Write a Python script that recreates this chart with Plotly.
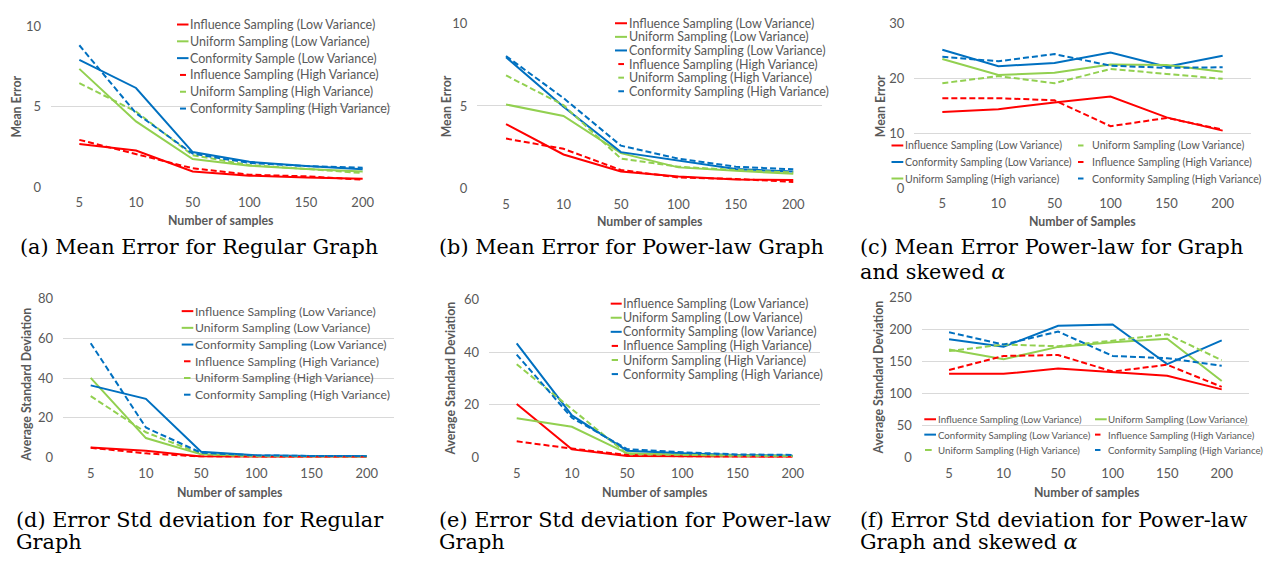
import plotly.graph_objects as go

W, H = 1281, 563

cats = ["5", "10", "50", "100", "150", "200"]

# (a) Mean Error for Regular Graph
a_inf_low = [2.68, 2.28, 0.97, 0.71, 0.60, 0.52]
a_uni_low = [7.36, 4.09, 1.75, 1.33, 1.13, 0.97]
a_con_low = [7.92, 6.17, 2.18, 1.57, 1.31, 1.11]
a_inf_high = [2.94, 2.04, 1.17, 0.77, 0.67, 0.46]
a_uni_high = [6.47, 4.70, 1.98, 1.37, 1.13, 0.87]
a_con_high = [8.83, 4.60, 2.08, 1.50, 1.31, 1.21]

# (b) Mean Error for Power-law Graph
b_inf_low = [3.91, 2.07, 1.04, 0.74, 0.55, 0.52]
b_uni_low = [5.09, 4.40, 2.15, 1.29, 1.08, 0.90]
b_con_low = [7.95, 4.95, 2.21, 1.72, 1.19, 1.04]
b_inf_high = [3.03, 2.41, 1.13, 0.68, 0.59, 0.41]
b_uni_high = [6.85, 5.05, 1.82, 1.33, 1.13, 0.98]
b_con_high = [8.02, 5.48, 2.60, 1.82, 1.33, 1.17]

# (c) Mean Error Power-law Graph, skewed alpha
c_inf_low = [13.9, 14.4, 15.6, 16.7, 12.9, 10.5]
c_uni_low = [19.1, 20.4, 19.1, 21.7, 20.8, 19.9]
c_con_low = [25.2, 22.2, 22.8, 24.7, 22.1, 24.1]
c_inf_high = [16.4, 16.4, 16.0, 11.3, 12.8, 10.7]
c_uni_high = [23.5, 20.6, 21.0, 22.5, 22.4, 21.2]
c_con_high = [23.9, 23.1, 24.4, 22.3, 21.9, 22.0]

# (d) Error Std deviation for Regular Graph
d_inf_low = [5.05, 3.4, 0.5, 0.2, 0.15, 0.15]
d_uni_low = [40.1, 9.8, 1.6, 0.5, 0.5, 0.4]
d_con_low = [36.3, 29.5, 2.9, 1.1, 0.8, 0.8]
d_inf_high = [4.9, 2.1, 0.5, 0.2, 0.2, 0.2]
d_uni_high = [30.9, 12.7, 1.8, 0.8, 0.7, 0.5]
d_con_high = [57.5, 15.1, 2.4, 1.1, 0.8, 0.7]

# (e) Error Std deviation for Power-law Graph
e_inf_low = [20.3, 3.1, 0.6, 0.4, 0.2, 0.1]
e_uni_low = [14.9, 11.7, 1.6, 1.0, 0.6, 0.6]
e_con_low = [43.3, 16.0, 2.6, 1.6, 1.0, 0.7]
e_inf_high = [6.15, 3.4, 1.0, 0.4, 0.3, 0.2]
e_uni_high = [35.4, 18.5, 1.35, 1.0, 0.7, 0.6]
e_con_high = [39.1, 15.1, 3.2, 2.0, 1.2, 1.0]

# (f) Error Std deviation for Power-law Graph, skewed alpha
f_inf_low = [130.8, 130.8, 139.0, 133.4, 127.8, 106.5]
f_uni_low = [168.9, 153.7, 172.9, 180.0, 185.6, 119.7]
f_con_low = [185.0, 173.0, 205.9, 207.9, 146.0, 183.0]
f_inf_high = [136.9, 158.7, 160.2, 134.4, 145.0, 110.5]
f_uni_high = [166.3, 176.5, 173.9, 182.6, 192.7, 152.1]
f_con_high = [195.7, 176.5, 196.8, 158.7, 155.2, 143.5]

labels_a = ["Influence Sampling (Low Variance)", "Uniform Sampling (Low Variance)",
            "Conformity Sample (Low Variance)", "Influence Sampling (High Variance)",
            "Uniform Sampling (High Variance)", "Conformity Sampling (High Variance)"]
labels_std = ["Influence Sampling (Low Variance)", "Uniform Sampling (Low Variance)",
              "Conformity Sampling (Low Variance)", "Influence Sampling (High Variance)",
              "Uniform Sampling (High Variance)", "Conformity Sampling (High Variance)"]
labels_c = ["Influence Sampling (Low Variance)", "Uniform Sampling (Low Variance)",
            "Conformity Sampling (Low Variance)", "Influence Sampling (High Variance)",
            "Uniform Sampling (High variance)", "Conformity Sampling (High Variance)"]
labels_e = ["Influence Sampling (Low Variance)", "Uniform Sampling (Low Variance)",
            "Conformity Sampling (low Variance)", "Influence Sampling (High Variance)",
            "Uniform Sampling (High Variance)", "Conformity Sampling (High Variance)"]

captions = [
    ("(a) Mean Error for Regular Graph", 18, 246),
    ("(b) Mean Error for Power-law Graph", 437, 246),
    ("(c) Mean Error Power-law for Graph", 858, 246),
    ("and skewed <i>α</i>", 858, 272),
    ("(d) Error Std deviation for Regular", 14, 527),
    ("Graph", 14, 550),
    ("(e) Error Std deviation for Power-law", 437, 527),
    ("Graph", 437, 550),
    ("(f) Error Std deviation for Power-law", 858, 527),
    ("Graph and skewed <i>α</i>", 858, 550),
]

RED, GREEN, BLUE = "#FF0000", "#92D050", "#0070C0"
GRAY, GRID = "#595959", "#D9D9D9"
DASH = "6px,3px"
STD_STYLES = [(RED, "solid"), (GREEN, "solid"), (BLUE, "solid"),
              (RED, DASH), (GREEN, DASH), (BLUE, DASH)]
C_STYLES = [(RED, "solid"), (GREEN, DASH), (BLUE, "solid"),
            (RED, DASH), (GREEN, "solid"), (BLUE, DASH)]


def X(p):
    return p / W


def Y(p):
    return 1 - p / H


panels = [
    dict(box=(51, 391, 19, 184.3), ymax=10, dtick=5,
         series=[a_inf_low, a_uni_low, a_con_low, a_inf_high, a_uni_high, a_con_high],
         labels=labels_a, styles=STD_STYLES,
         ytitle="Mean Error", ypos=(17, 101.5), xtitle="Number of samples", xpos=(221, 219),
         lfont=12.5, ly0=17, ldy=17.3,
         cols=[dict(items=[0, 1, 2, 3, 4, 5], key=(177, 188.5), dash=(180, 186), tx=188)]),
    dict(box=(477.3, 822, 15.7, 186), ymax=10, dtick=5,
         series=[b_inf_low, b_uni_low, b_con_low, b_inf_high, b_uni_high, b_con_high],
         labels=labels_std, styles=STD_STYLES,
         ytitle="Mean Error", ypos=(446.7, 101.5), xtitle="Number of samples", xpos=(650, 220),
         lfont=12.5, ly0=15.7, ldy=14,
         cols=[dict(items=[0, 1, 2, 3, 4, 5], key=(615, 627), dash=(618.3, 624), tx=626.5)]),
    dict(box=(914.3, 1250.7, 15.7, 185.7), ymax=30, dtick=10,
         series=[c_inf_low, c_uni_low, c_con_low, c_inf_high, c_uni_high, c_con_high],
         labels=labels_c, styles=C_STYLES,
         ytitle="Mean Error", ypos=(880, 101), xtitle="Number of Samples", xpos=(1082, 220),
         lfont=10.6, ly0=141.5, ldy=17,
         cols=[dict(items=[0, 2, 4], key=(891.5, 903.3), dash=(892, 898), tx=902.8),
               dict(items=[1, 3, 5], key=(1078, 1090), dash=(1078, 1083.5), tx=1089.7)]),
    dict(box=(63.1, 394.3, 299, 462.7), ymax=80, dtick=20,
         series=[d_inf_low, d_uni_low, d_con_low, d_inf_high, d_uni_high, d_con_high],
         labels=labels_std, styles=STD_STYLES,
         ytitle="Average Standard Deviation", ypos=(26.7, 388), xtitle="Number of samples", xpos=(230, 498.3),
         lfont=12.2, ly0=312, ldy=17.2,
         cols=[dict(items=[0, 1, 2, 3, 4, 5], key=(181.7, 193.3), dash=(184, 190.5), tx=192.6)]),
    dict(box=(489.1, 820.3, 300, 462.7), ymax=60, dtick=20,
         series=[e_inf_low, e_uni_low, e_con_low, e_inf_high, e_uni_high, e_con_high],
         labels=labels_e, styles=STD_STYLES,
         ytitle="Average Standard Deviation", ypos=(450.7, 381.7), xtitle="Number of samples", xpos=(655, 498.3),
         lfont=12.5, ly0=304.3, ldy=14.5,
         cols=[dict(items=[0, 1, 2, 3, 4, 5], key=(610.7, 621.7), dash=(611.7, 618), tx=621.3)]),
    dict(box=(921.8, 1249, 298, 462.7), ymax=250, dtick=50,
         series=[f_inf_low, f_uni_low, f_con_low, f_inf_high, f_uni_high, f_con_high],
         labels=labels_std, styles=STD_STYLES,
         ytitle="Average Standard Deviation", ypos=(878.3, 380), xtitle="Number of samples", xpos=(1086.7, 498.3),
         lfont=9.7, ly0=423.3, ldy=15.8,
         cols=[dict(items=[0, 2, 4], key=(924.3, 936), dash=(925, 931.7), tx=935.8),
               dict(items=[1, 3, 5], key=(1095, 1106.7), dash=(1095, 1100.5), tx=1106.3)]),
]

fig = go.Figure()
layout = dict(width=W, height=H, margin=dict(l=0, r=0, t=0, b=0), autosize=False,
              paper_bgcolor="white", plot_bgcolor="white", showlegend=False)
shapes, annotations = [], []
tickfont = dict(family="Lato", size=13, color=GRAY)
titlefont = dict(family="Lato", size=12.3, color=GRAY, weight="bold")

for i, p in enumerate(panels, start=1):
    sfx = "" if i == 1 else str(i)
    x0, x1, yt, yb = p["box"]
    for vals, name, (col, dash) in zip(p["series"], p["labels"], p["styles"]):
        fig.add_trace(go.Scatter(x=cats, y=vals, name=name, mode="lines",
                                 line=dict(color=col, width=2, dash=dash),
                                 xaxis="x" + sfx, yaxis="y" + sfx, showlegend=False))
    layout["xaxis" + sfx] = dict(domain=[X(x0), X(x1)], anchor="y" + sfx, type="category",
                                 categoryorder="array", categoryarray=cats, range=[-0.5, 5.5],
                                 showgrid=False, zeroline=False, showline=False, ticks="",
                                 tickfont=tickfont, ticklabelstandoff=6, fixedrange=True)
    layout["yaxis" + sfx] = dict(domain=[Y(yb), Y(yt)], anchor="x" + sfx, range=[0, p["ymax"]],
                                 dtick=p["dtick"], showgrid=True, gridcolor=GRID, gridwidth=1,
                                 zeroline=False, showline=False, ticks="", tickfont=tickfont,
                                 ticklabelstandoff=9, fixedrange=True)
    annotations.append(dict(text=p["ytitle"], x=X(p["ypos"][0]), y=Y(p["ypos"][1]), xref="paper",
                            yref="paper", textangle=-90, showarrow=False, font=titlefont,
                            xanchor="center", yanchor="middle"))
    annotations.append(dict(text=p["xtitle"], x=X(p["xpos"][0]), y=Y(p["xpos"][1]), xref="paper",
                            yref="paper", showarrow=False, font=titlefont,
                            xanchor="center", yanchor="middle"))
    for c in p["cols"]:
        for r, idx in enumerate(c["items"]):
            yy = p["ly0"] + r * p["ldy"]
            col, dash = p["styles"][idx]
            k0, k1 = c["key"] if dash == "solid" else c["dash"]
            shapes.append(dict(type="line", xref="paper", yref="paper", x0=X(k0), x1=X(k1),
                               y0=Y(yy), y1=Y(yy), line=dict(color=col, width=2)))
            annotations.append(dict(text=p["labels"][idx], x=X(c["tx"]), y=Y(yy), xref="paper",
                                    yref="paper", showarrow=False, xanchor="left",
                                    yanchor="middle",
                                    font=dict(family="Lato", size=p["lfont"], color=GRAY)))

for txt, cx, cy in captions:
    annotations.append(dict(text=txt, x=X(cx), y=Y(cy), xref="paper", yref="paper",
                            showarrow=False, xanchor="left", yanchor="middle",
                            font=dict(family="DejaVu Serif", size=20.8, color="black")))

layout["shapes"] = shapes
layout["annotations"] = annotations
fig.update_layout(**layout)
fig.write_html("out.html", config={"displayModeBar": False},
               post_script="document.body.style.margin='0';document.body.style.overflow='hidden';")
